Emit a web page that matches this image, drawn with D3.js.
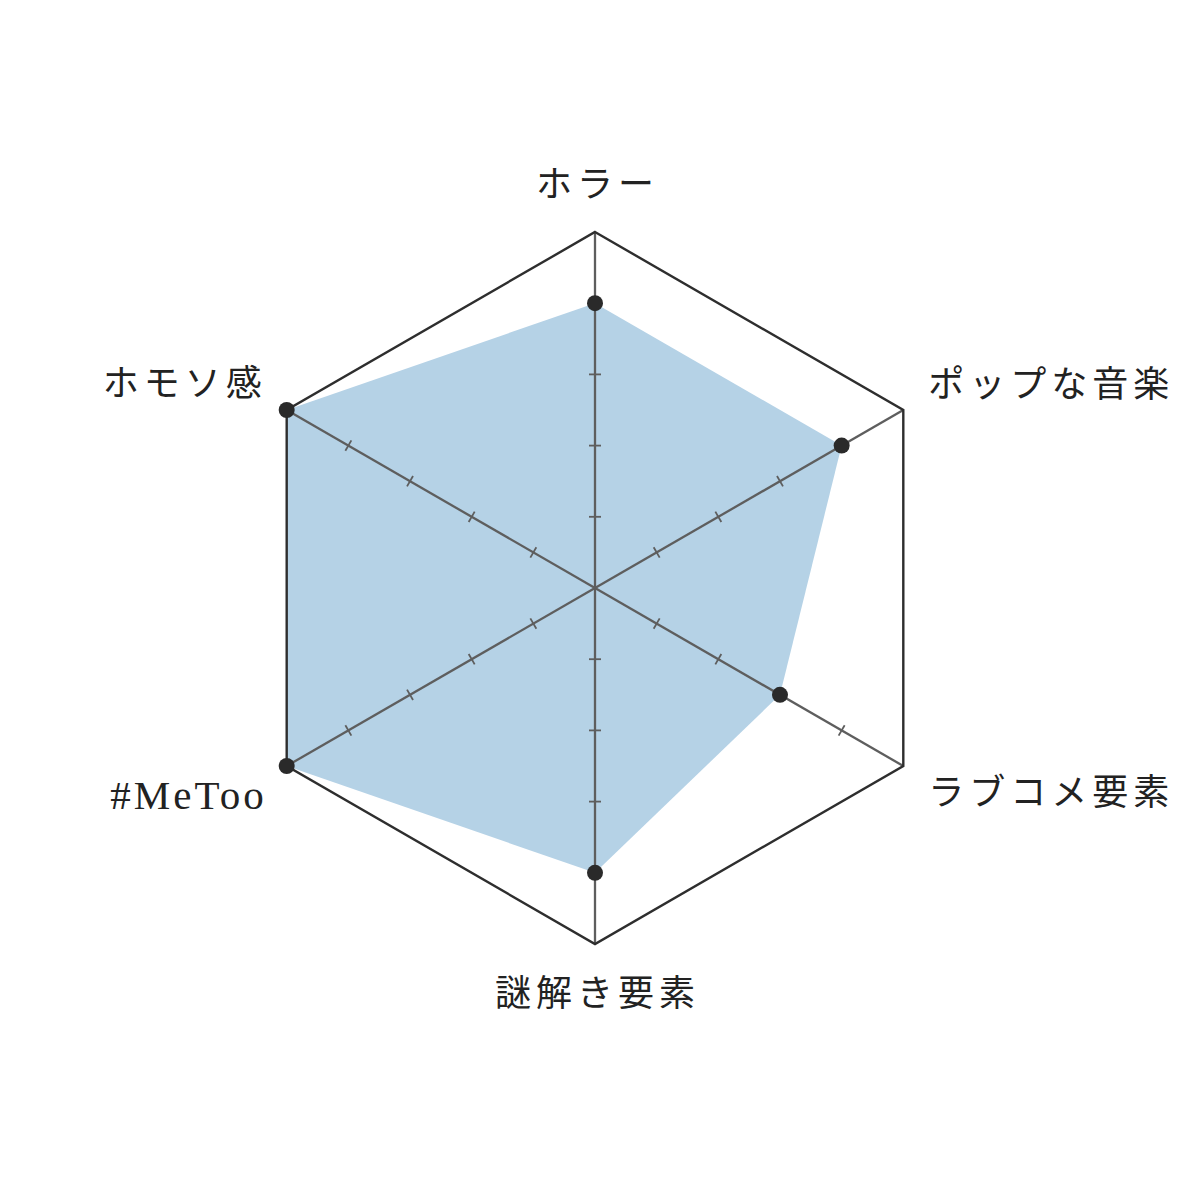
<!DOCTYPE html>
<html>
<head>
<meta charset="utf-8">
<script src="https://cdn.jsdelivr.net/npm/d3@7"></script>
<style>
    body { margin: 0; background: #fff; }
    .label { font-family: "Liberation Serif", "Noto Sans CJK JP", serif; font-size: 36px; letter-spacing: 5px; fill: #222; }
    .label.latin { font-size: 41px; letter-spacing: 3px; }
</style>
</head>
<body>
<svg id="radar" width="1200" height="1200"></svg>
<script>
// Axis labels, clockwise from the top
const categories = ['ホラー', 'ポップな音楽', 'ラブコメ要素', '謎解き要素', '#MeToo', 'ホモソ感'];
// Scores (0 - 5)
const values = [4, 4, 3, 4, 5, 5];
// Tick levels on each axis
const tickLevels = [1, 2, 3, 4];
const maxValue = 5;

/*When the document is loaded*/
document.addEventListener('DOMContentLoaded', drawChart);

function drawChart(){
    let svg = d3.select('#radar');
    let cx = 595, cy = 588, radius = 356;
    let n = categories.length;

    let rScale = d3.scaleLinear().domain([0, maxValue]).range([0, radius]);
    let angle = i => i * 2 * Math.PI / n;

    let body = svg.append('g').attr('transform', 'translate(' + cx + ',' + cy + ')');

    // Filled data area
    let radial = d3.lineRadial()
        .angle((d, i) => angle(i))
        .radius(d => rScale(d))
        .curve(d3.curveLinearClosed);

    body.append('path')
        .attr('d', radial(values))
        .attr('fill', '#b5d2e6')
        .attr('stroke', 'none');

    // Axes with small ticks
    let axes = body.selectAll('.axis')
        .data(categories)
        .enter()
        .append('g')
        .attr('class', 'axis')
        .attr('transform', (d, i) => 'rotate(' + (i * 360 / n) + ')');

    axes.append('line')
        .attr('x1', 0).attr('y1', 0)
        .attr('x2', 0).attr('y2', -rScale(maxValue))
        .attr('stroke', '#5e5e5e')
        .attr('stroke-width', 2.3);

    axes.selectAll('.tick')
        .data(tickLevels)
        .enter()
        .append('line')
        .attr('class', 'tick')
        .attr('x1', -6).attr('x2', 6)
        .attr('y1', d => -rScale(d))
        .attr('y2', d => -rScale(d))
        .attr('stroke', '#5e5e5e')
        .attr('stroke-width', 1.8);

    // Outer hexagon
    body.append('path')
        .attr('d', radial(categories.map(() => maxValue)))
        .attr('fill', 'none')
        .attr('stroke', '#2e2e2e')
        .attr('stroke-width', 2.4)
        .attr('stroke-linejoin', 'miter');

    // Data points
    body.selectAll('.pt')
        .data(values)
        .enter()
        .append('circle')
        .attr('class', 'pt')
        .attr('cx', (d, i) => rScale(d) * Math.sin(angle(i)))
        .attr('cy', (d, i) => -rScale(d) * Math.cos(angle(i)))
        .attr('r', 8)
        .attr('fill', '#2a2a2a');

    // Labels around the outer vertices
    let spacing = 5;
    body.selectAll('.label')
        .data(categories)
        .enter()
        .append('text')
        .attr('class', d => /^[\x00-\x7F]+$/.test(d) ? 'label latin' : 'label')
        .attr('dominant-baseline', 'central')
        .each(function(d, i){
            let a = angle(i);
            let vx = radius * Math.sin(a);
            let vy = -radius * Math.cos(a);
            let t = d3.select(this).text(d);
            if (Math.abs(vx) < 1) {
                t.attr('text-anchor', 'middle')
                 .attr('x', vx + spacing / 2)
                 .attr('y', vy + (vy < 0 ? -47 : 50));
            } else if (vx > 0) {
                t.attr('text-anchor', 'start')
                 .attr('x', vx + 25)
                 .attr('y', vy + (vy < 0 ? -25 : 27));
            } else {
                t.attr('text-anchor', 'end')
                 .attr('x', vx - 25 + spacing)
                 .attr('y', vy + (vy < 0 ? -26 : 29));
            }
        });
}
</script>
</body>
</html>
